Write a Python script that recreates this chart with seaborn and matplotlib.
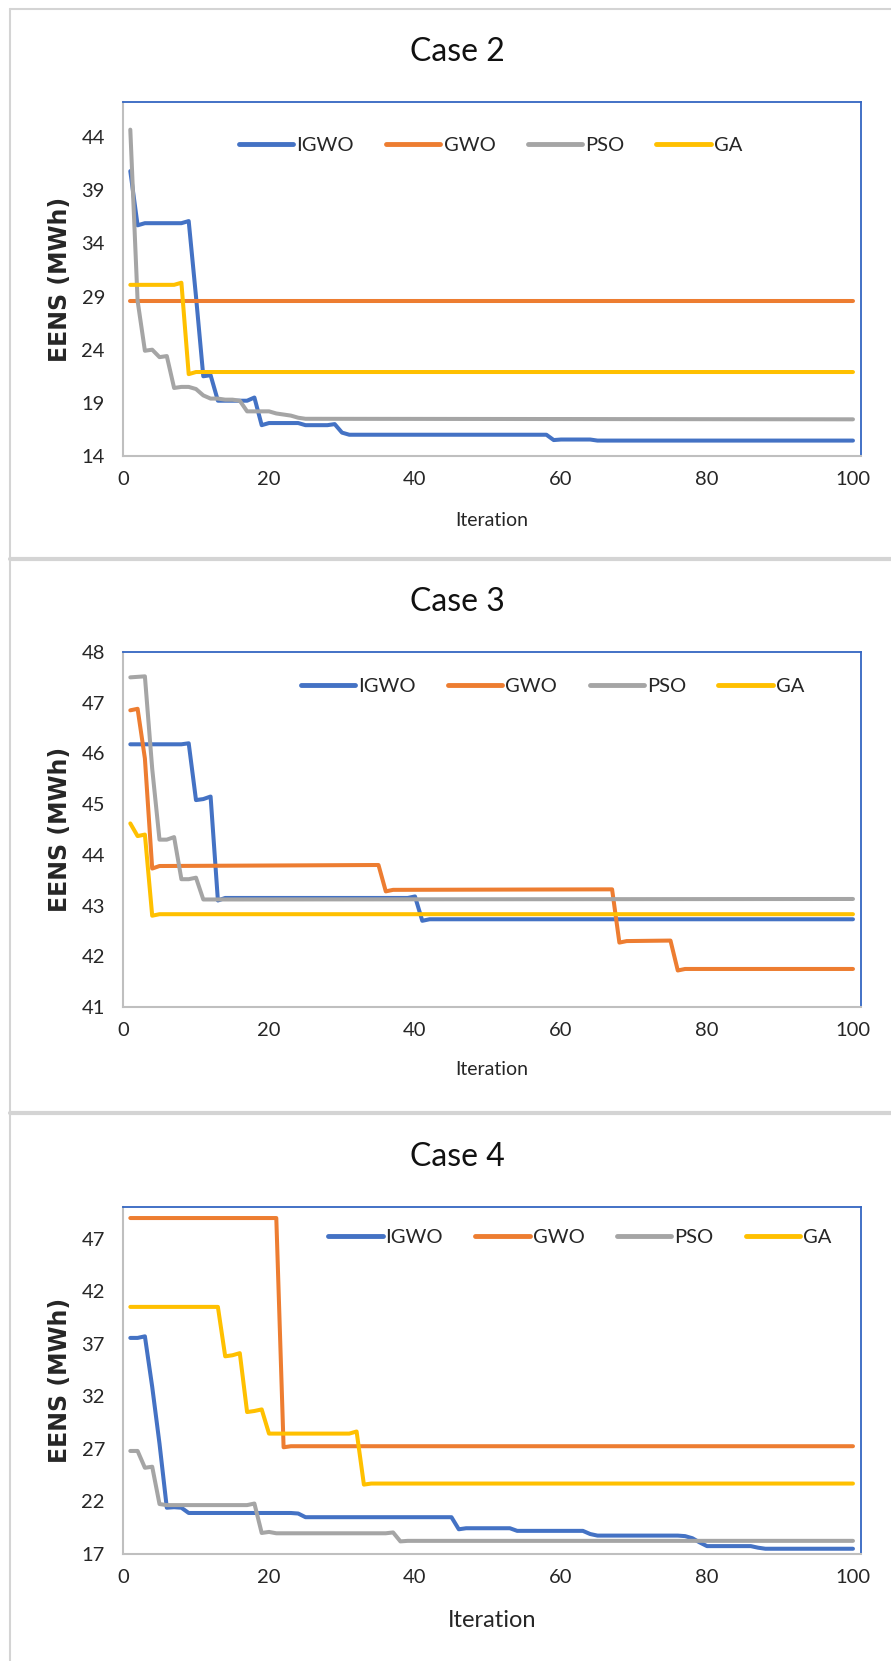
import matplotlib
matplotlib.use("Agg")
import matplotlib.pyplot as plt
from matplotlib.lines import Line2D
import pandas as pd
import seaborn as sns

algos = ["IGWO", "GWO", "PSO", "GA"]
colors = ["#4472C4", "#ED7D31", "#A5A5A5", "#FFC000"]

# Case 2 (iteration, EENS) break points
c2_igwo_it = [1, 2, 3, 8, 9, 10, 11, 12, 13, 17, 18, 19, 20, 24, 25, 28, 29, 30, 31, 58, 59, 60, 64, 65, 100]
c2_igwo = [40.8, 35.7, 35.9, 35.9, 36.1, 29.0, 21.5, 21.6, 19.2, 19.2, 19.5, 16.9, 17.1, 17.1, 16.9,
           16.9, 17.0, 16.2, 16.0, 16.0, 15.5, 15.55, 15.55, 15.45, 15.45]
c2_gwo_it = [1, 100]
c2_gwo = [28.6, 28.6]
c2_pso_it = [1, 2, 3, 4, 5, 6, 7, 8, 9, 10, 11, 12, 13, 14, 15, 16, 17, 18, 19, 20, 21, 22, 23, 24, 25, 100]
c2_pso = [44.7, 28.6, 23.9, 24.0, 23.3, 23.4, 20.4, 20.5, 20.5, 20.3, 19.7, 19.4, 19.4, 19.3, 19.3,
          19.2, 18.2, 18.2, 18.2, 18.2, 18.0, 17.9, 17.8, 17.6, 17.5, 17.45]
c2_ga_it = [1, 7, 8, 9, 10, 100]
c2_ga = [30.1, 30.1, 30.3, 21.7, 21.9, 21.9]

# Case 3
c3_igwo_it = [1, 8, 9, 10, 11, 12, 13, 14, 39, 40, 41, 42, 100]
c3_igwo = [46.18, 46.18, 46.2, 45.08, 45.1, 45.15, 43.1, 43.15, 43.15, 43.18, 42.7, 42.73, 42.73]
c3_gwo_it = [1, 2, 3, 4, 5, 35, 36, 37, 67, 68, 69, 75, 76, 77, 100]
c3_gwo = [46.85, 46.88, 45.9, 43.73, 43.78, 43.8, 43.28, 43.31, 43.32, 42.27, 42.3, 42.31, 41.72, 41.75, 41.75]
c3_pso_it = [1, 3, 4, 5, 6, 7, 8, 9, 10, 11, 100]
c3_pso = [47.5, 47.52, 45.7, 44.3, 44.3, 44.35, 43.52, 43.52, 43.55, 43.12, 43.13]
c3_ga_it = [1, 2, 3, 4, 5, 100]
c3_ga = [44.62, 44.37, 44.4, 42.8, 42.83, 42.83]

# Case 4
c4_igwo_it = [1, 2, 3, 4, 5, 6, 7, 8, 9, 23, 24, 25, 45, 46, 47, 53, 54, 63, 64, 65, 76, 77, 78, 79, 80,
              86, 87, 88, 100]
c4_igwo = [37.55, 37.55, 37.7, 32.9, 27.5, 21.4, 21.45, 21.4, 20.9, 20.9, 20.85, 20.5, 20.5, 19.35, 19.45,
           19.45, 19.2, 19.2, 18.9, 18.75, 18.75, 18.7, 18.5, 18.1, 17.75, 17.75, 17.6, 17.5, 17.5]
c4_gwo_it = [1, 21, 22, 23, 100]
c4_gwo = [48.95, 48.95, 27.15, 27.25, 27.25]
c4_pso_it = [1, 2, 3, 4, 5, 6, 17, 18, 19, 20, 21, 36, 37, 38, 39, 100]
c4_pso = [26.8, 26.8, 25.2, 25.3, 21.75, 21.65, 21.65, 21.8, 19.0, 19.1, 18.97, 18.97, 19.05, 18.2, 18.25, 18.25]
c4_ga_it = [1, 13, 14, 15, 16, 17, 18, 19, 20, 31, 32, 33, 34, 100]
c4_ga = [40.5, 40.5, 35.8, 35.9, 36.1, 30.5, 30.6, 30.75, 28.45, 28.45, 28.65, 23.6, 23.7, 23.7]

case2_ticks = [14, 19, 24, 29, 34, 39, 44]
case3_ticks = [41, 42, 43, 44, 45, 46, 47, 48]
case4_ticks = [17, 22, 27, 32, 37, 42, 47]
x_ticks = [0, 20, 40, 60, 80, 100]


def make_frame(series):
    rows = []
    for name, (its, vals) in zip(algos, series):
        for i, v in zip(its, vals):
            rows.append({"iteration": i, "eens": v, "algorithm": name})
    return pd.DataFrame(rows)


sns.set_style("white")
plt.rcParams["font.family"] = ["Lato", "DejaVu Sans"]

W, H = 891, 1661
fig = plt.figure(figsize=(W / 100, H / 100), dpi=100)


def px_axes(left, right, top, bottom):
    return fig.add_axes([left / W, 1 - bottom / H, (right - left) / W, (bottom - top) / H])


def plot_case(ax, df, title, title_y, ylim, yticks, leg_xy, xlabel_y, xlabel_size):
    sns.lineplot(data=df, x="iteration", y="eens", hue="algorithm", hue_order=algos,
                 palette=colors, linewidth=2.9, estimator=None, sort=True, ax=ax)
    for line in ax.get_lines():
        line.set_solid_joinstyle("round")
        line.set_solid_capstyle("round")
    ax.set_xlim(0, 101.1)
    ax.set_ylim(*ylim)
    ax.set_xticks(x_ticks)
    ax.set_yticks(yticks)
    ax.tick_params(axis="both", length=0, labelsize=14.5, labelcolor="#262626")
    ax.tick_params(axis="y", pad=13)
    ax.tick_params(axis="x", pad=11)
    for side in ["top", "right"]:
        ax.spines[side].set_color("#3466C2")
        ax.spines[side].set_linewidth(1.3)
    for side in ["left", "bottom"]:
        ax.spines[side].set_color("#BFBFBF")
        ax.spines[side].set_linewidth(1.5)
    ax.set_ylabel("EENS (MWh)", fontfamily="DejaVu Sans", fontweight="bold", fontsize=17,
                  color="#262626", va="center")
    ax.yaxis.set_label_coords(-0.0854, 0.5)
    ax.set_xlabel("Iteration", fontsize=xlabel_size, color="#262626", va="center")
    ax.xaxis.set_label_coords(0.5, xlabel_y)

    handles, labels = ax.get_legend_handles_labels()
    leg = ax.legend(handles, labels, ncol=4, loc="center left", bbox_to_anchor=leg_xy,
                    frameon=False, fontsize=14.5, handlelength=2.7, handletextpad=0.15,
                    columnspacing=1.6, borderpad=0, borderaxespad=0)
    for line in leg.get_lines():
        line.set_linewidth(3.5)
        line.set_solid_capstyle("round")
    for text in leg.get_texts():
        text.set_color("#262626")

    fig.text(457 / W, 1 - title_y / H, title, fontsize=23, ha="center", va="center", color="#111111")


ax2 = px_axes(123, 861, 102, 456)
plot_case(ax2, make_frame([(c2_igwo_it, c2_igwo), (c2_gwo_it, c2_gwo), (c2_pso_it, c2_pso), (c2_ga_it, c2_ga)]),
          "Case 2", 52, (14, 47.3), case2_ticks, (0.157, 0.878), -0.181, 14)

ax3 = px_axes(123, 861, 652, 1007)
plot_case(ax3, make_frame([(c3_igwo_it, c3_igwo), (c3_gwo_it, c3_gwo), (c3_pso_it, c3_pso), (c3_ga_it, c3_ga)]),
          "Case 3", 602, (41, 48), case3_ticks, (0.241, 0.904), -0.175, 14)

ax4 = px_axes(123, 861, 1207, 1554)
plot_case(ax4, make_frame([(c4_igwo_it, c4_igwo), (c4_gwo_it, c4_gwo), (c4_pso_it, c4_pso), (c4_ga_it, c4_ga)]),
          "Case 4", 1157, (17, 50), case4_ticks, (0.278, 0.911), -0.193, 17)

# light grey frames around the three chart panels
border = "#D4D4D4"
fig.add_artist(Line2D([10 / W, 10 / W], [0, 1 - 9 / H], transform=fig.transFigure, color=border, lw=1.5))
fig.add_artist(Line2D([10 / W, 1], [1 - 9 / H, 1 - 9 / H], transform=fig.transFigure, color=border, lw=1.5))
for y in [559, 1113]:
    fig.add_artist(Line2D([10 / W, 1], [1 - y / H, 1 - y / H], transform=fig.transFigure, color=border, lw=3))

fig.savefig("out.png", dpi=100)
